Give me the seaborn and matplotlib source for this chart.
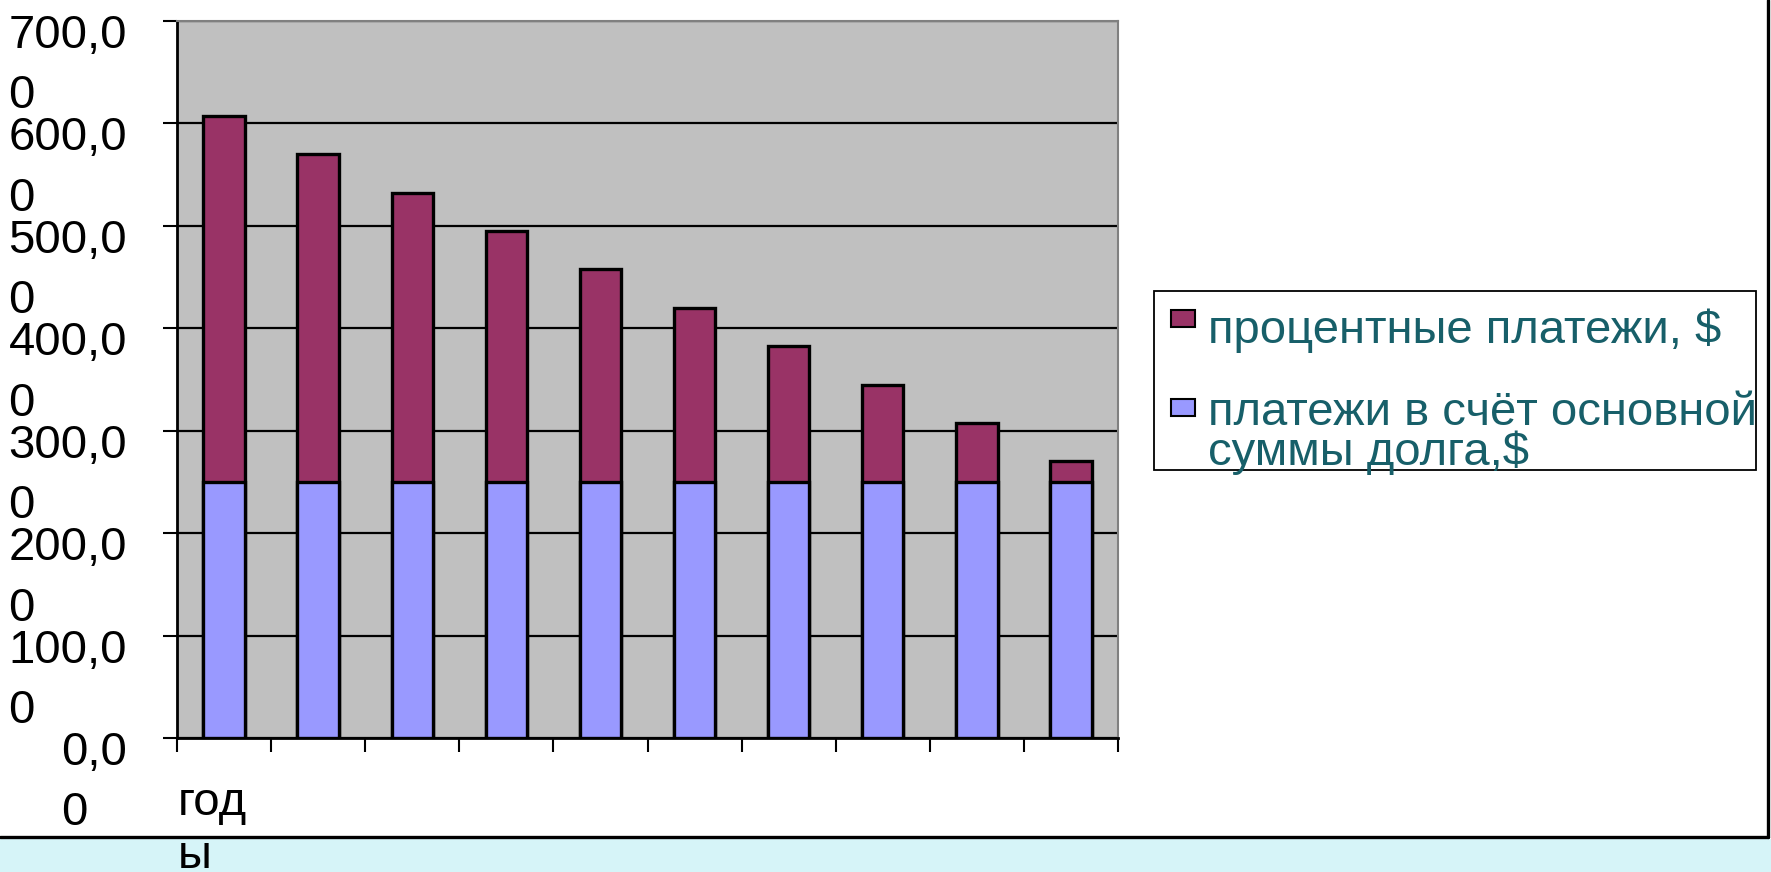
import pandas as pd
import matplotlib
matplotlib.use("Agg")
import matplotlib.pyplot as plt
import matplotlib.transforms as mtransforms
from matplotlib.patches import Rectangle
from matplotlib.lines import Line2D
import seaborn as sns

# data
years = ["1", "2", "3", "4", "5", "6", "7", "8", "9", "10"]
principal = [250, 250, 250, 250, 250, 250, 250, 250, 250, 250]
interest = [357.5, 320, 282.5, 245, 207.5, 170, 132.5, 95, 57.5, 20]
y_ticks = [0, 100, 200, 300, 400, 500, 600, 700]
y_labels = ["0,0\n0", "100,0\n0", "200,0\n0", "300,0\n0",
            "400,0\n0", "500,0\n0", "600,0\n0", "700,0\n0"]
x_label = "год\nы"
legend_labels = ["процентные платежи, $", "платежи в счёт основной", "суммы долга,$"]

purple = "#993366"
blue = "#9999ff"
teal = "#175f69"

sns.set_theme(style="white")
plt.rcParams['font.family'] = ['Liberation Sans', 'DejaVu Sans']
plt.rcParams['text.color'] = 'black'

df = pd.DataFrame({"year": years, "principal": principal, "interest": interest})
df["total"] = df["principal"] + df["interest"]

W, H = 1771, 872
fig = plt.figure(figsize=(W / 100, H / 100), dpi=100)
fig.patch.set_facecolor("white")

ax = fig.add_axes([177 / W, 1 - 738 / H, (1118 - 177) / W, (738 - 21) / H])
ax.set_facecolor("#c0c0c0")

# stacked look: full bar in purple, principal drawn over it in blue
sns.barplot(data=df, x="year", y="total", color=purple, saturation=1, width=0.44,
            edgecolor="black", linewidth=2.4, errorbar=None, ax=ax, zorder=3)
sns.barplot(data=df, x="year", y="principal", color=blue, saturation=1, width=0.44,
            edgecolor="black", linewidth=2.4, errorbar=None, ax=ax, zorder=4)

ax.set_xlim(-0.5, len(years) - 0.5)
ax.set_ylim(0, 700)
ax.set_xlabel("")
ax.set_ylabel("")
ax.yaxis.grid(True, color="black", linewidth=1.6)
ax.set_axisbelow(True)

ax.set_xticks([i - 0.5 for i in range(len(years) + 1)])
ax.set_xticklabels([])
ax.set_yticks(y_ticks)
ax.set_yticklabels(y_labels, fontsize=34, va="top", ha="right", color="black",
                   multialignment="left", linespacing=1.48)
ax.tick_params(axis="both", direction="out", length=10, width=1.5, color="black",
               bottom=True, left=True)
ax.tick_params(axis="y", pad=26)

offset = mtransforms.ScaledTranslation(0, 5 / 72, fig.dpi_scale_trans)
for lab in ax.get_yticklabels():
    lab.set_transform(lab.get_transform() + offset)

for side in ["left", "bottom"]:
    ax.spines[side].set_color("black")
    ax.spines[side].set_linewidth(2)
for side in ["top", "right"]:
    ax.spines[side].set_color("#808080")
    ax.spines[side].set_linewidth(1.5)

fig.text(178 / W, 1 - 781 / H, x_label, fontsize=34, va="top", ha="left",
         linespacing=1.27, color="black")

# legend box drawn by hand (text overflows the frame like in the original)
fig.patches.append(Rectangle((1154 / W, 1 - 470 / H), (1756 - 1154) / W, (470 - 291) / H,
                             transform=fig.transFigure, facecolor="none",
                             edgecolor="black", linewidth=1.3))
fig.patches.append(Rectangle((1171 / W, 1 - 327 / H), 24 / W, 17 / H,
                             transform=fig.transFigure, facecolor=purple,
                             edgecolor="black", linewidth=1.5))
fig.patches.append(Rectangle((1171 / W, 1 - 416 / H), 24 / W, 17 / H,
                             transform=fig.transFigure, facecolor=blue,
                             edgecolor="black", linewidth=1.5))
for lab, base in zip(legend_labels, [343, 425, 465]):
    fig.text(1208 / W, 1 - base / H, lab, fontsize=34, color=teal,
             va="baseline", ha="left")

# slide frame and light band at the bottom
fig.patches.append(Rectangle((0, 0), 1, (H - 839) / H, transform=fig.transFigure,
                             facecolor="#d6f4f8", edgecolor="none", zorder=0))
fig.lines.append(Line2D([0, 1768 / W], [1 - 837 / H] * 2, transform=fig.transFigure,
                        color="black", linewidth=2.4))
fig.lines.append(Line2D([1768 / W] * 2, [1 - 837 / H, 1], transform=fig.transFigure,
                        color="black", linewidth=2.4))

fig.savefig("out.png", dpi=100)
